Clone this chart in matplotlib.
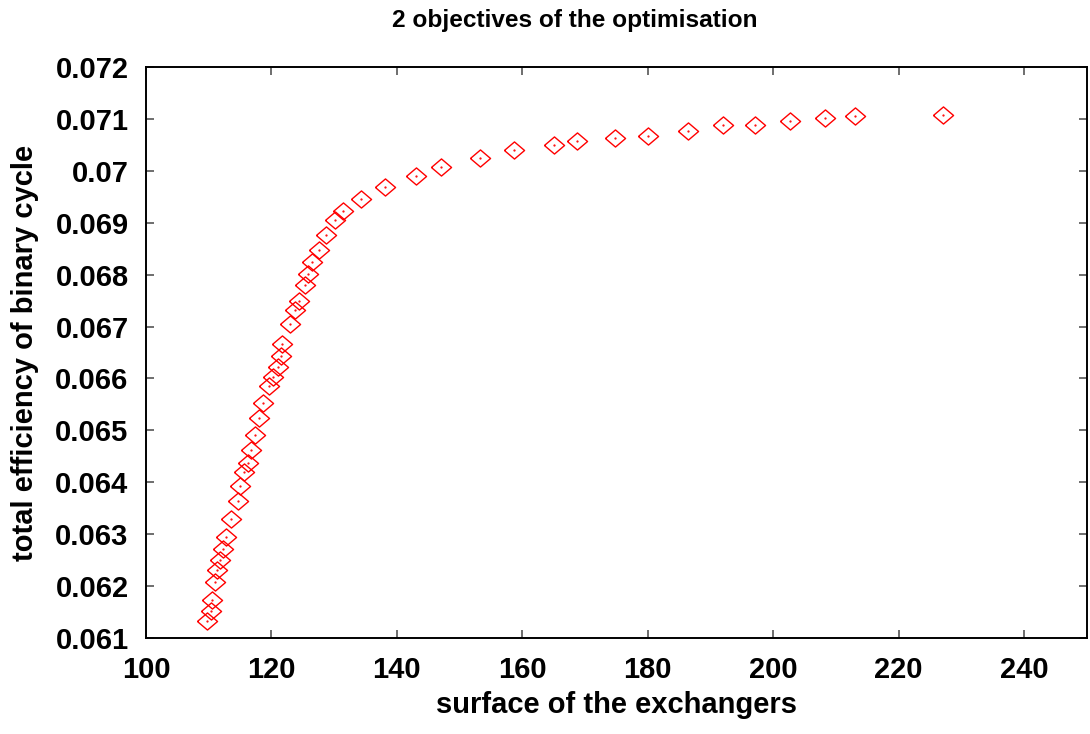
import matplotlib.pyplot as plt
from matplotlib.ticker import FuncFormatter, MultipleLocator

# Pareto front values
surface = [109.70, 110.29, 110.45, 110.97, 111.40, 111.88, 112.24, 112.72, 113.62,
           114.63, 114.94, 115.63, 116.26, 116.69, 117.33, 118.01, 118.71, 119.67,
           120.24, 120.99, 121.57, 121.73, 122.94, 123.74, 124.32, 125.33, 125.87,
           126.50, 127.66, 128.73, 130.10, 131.43, 134.34, 138.04, 142.97, 147.06,
           153.26, 158.71, 165.02, 168.73, 174.72, 179.97, 186.33, 192.00, 197.14,
           202.70, 208.31, 213.08, 226.98]
efficiency = [0.061331, 0.061524, 0.061730, 0.062071, 0.062308, 0.062501, 0.062713,
              0.062944, 0.063285, 0.063644, 0.063921, 0.064202, 0.064376, 0.064620,
              0.064915, 0.065231, 0.065526, 0.065859, 0.066033, 0.066214, 0.066437,
              0.066663, 0.067048, 0.067312, 0.067497, 0.067805, 0.068017, 0.068249,
              0.068468, 0.068769, 0.069046, 0.069220, 0.069462, 0.069682, 0.069894,
              0.070068, 0.070253, 0.070395, 0.070491, 0.070580, 0.070638, 0.070671,
              0.070767, 0.070877, 0.070882, 0.070960, 0.071017, 0.071062, 0.071075]

plt.rcParams["font.family"] = ["Liberation Sans", "DejaVu Sans"]
plt.rcParams["font.weight"] = "bold"

fig = plt.figure(figsize=(10.9, 7.34), dpi=100)
ax = fig.add_axes([0.1339, 0.1308, 0.8633, 0.7779])

diamond = [(-1, 0), (0, 0.85), (1, 0), (0, -0.85), (-1, 0)]
ax.plot(surface, efficiency, linestyle="none", marker=diamond, markersize=14.5,
        markerfacecolor="none", markeredgecolor="red", markeredgewidth=1.0)
ax.plot(surface, efficiency, linestyle="none", marker=".", markersize=1.2, color="red")

ax.set_xlim(100, 250)
ax.set_ylim(0.061, 0.072)
ax.xaxis.set_major_locator(MultipleLocator(20))
ax.yaxis.set_major_locator(MultipleLocator(0.001))
ax.yaxis.set_major_formatter(FuncFormatter(lambda v, p: "%g" % round(v, 6)))
ax.tick_params(direction="in", length=6, width=1.2, color="#555555",
               top=True, right=True, labelsize=21)
ax.tick_params(axis="x", pad=13)
ax.tick_params(axis="y", pad=12.5)
for lab in ax.get_xticklabels() + ax.get_yticklabels():
    lab.set_fontweight("bold")
for s in ax.spines.values():
    s.set_linewidth(1.4)

ax.set_xlabel("surface of the exchangers", fontsize=21, fontweight="bold", va="center")
ax.xaxis.set_label_coords(0.5, -0.1173)
ax.set_ylabel("total efficiency of binary cycle", fontsize=21, fontweight="bold",
              ha="center", va="center")
ax.yaxis.set_label_coords(-0.1286, 0.5)
fig.text(575 / 1090, 1 - 21 / 734, "2 objectives of the optimisation", ha="center",
         va="center", fontsize=17.6, fontweight="bold")

fig.savefig("out.png", dpi=100)
